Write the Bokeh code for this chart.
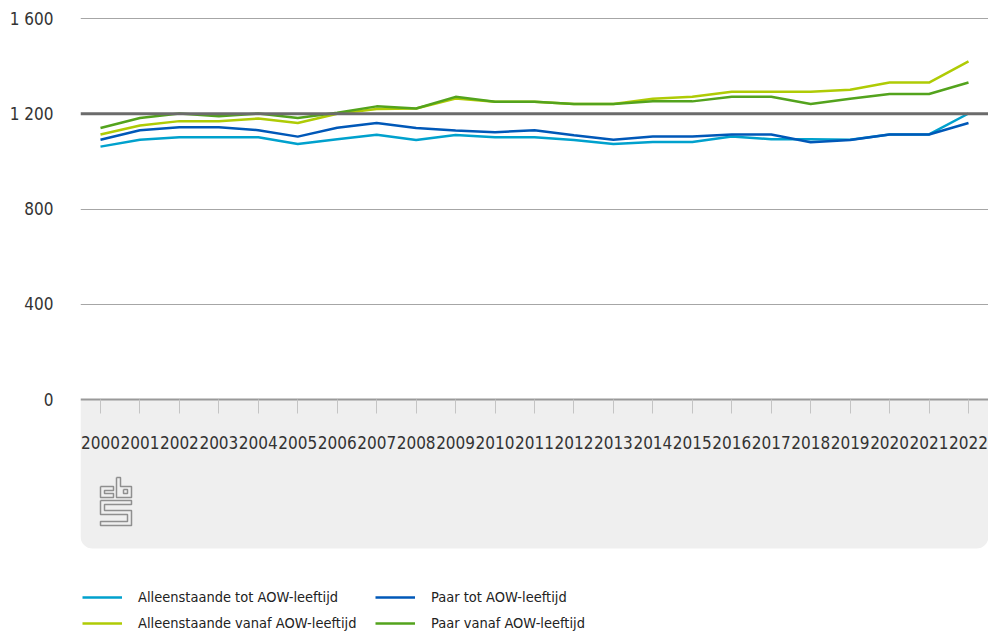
from bokeh.plotting import figure
from bokeh.models import FixedTicker, Span, Legend, LegendItem, Range1d
from bokeh.embed import file_html
from bokeh.resources import INLINE

# ---- data ----
years = list(range(2000, 2023))
alleenstaande_tot = [1062, 1091, 1101, 1101, 1101, 1073, 1093, 1112, 1090, 1111, 1101, 1101,
                     1090, 1073, 1081, 1081, 1104, 1093, 1093, 1091, 1113, 1113, 1201]
paar_tot = [1091, 1131, 1143, 1143, 1131, 1104, 1141, 1161, 1140, 1130, 1122, 1131,
            1110, 1091, 1104, 1104, 1113, 1113, 1080, 1090, 1113, 1113, 1161]
alleenstaande_vanaf = [1113, 1151, 1169, 1169, 1180, 1161, 1200, 1220, 1222, 1264, 1250, 1250,
                       1241, 1241, 1263, 1271, 1292, 1292, 1292, 1301, 1331, 1331, 1420]
paar_vanaf = [1140, 1182, 1201, 1189, 1201, 1182, 1204, 1231, 1222, 1271, 1250, 1250,
              1241, 1241, 1252, 1252, 1271, 1271, 1241, 1263, 1283, 1283, 1331]
y_ticks = [0, 400, 800, 1200, 1600]
y_tick_labels = {0: "0", 400: "400", 800: "800", 1200: "1 200", 1600: "1 600"}
reference_level = 1200
series_names = ["Alleenstaande tot AOW-leeftijd", "Paar tot AOW-leeftijd",
                "Alleenstaande vanaf AOW-leeftijd", "Paar vanaf AOW-leeftijd"]
series_values = [alleenstaande_tot, paar_tot, alleenstaande_vanaf, paar_vanaf]
series_colors = ["#00a1cd", "#0058b8", "#afcb05", "#53a31d"]

# ---- geometry (pixels) ----
W, H = 988, 636
BORDER_LEFT, BORDER_TOP = 80, 10
PX_PER_UNIT = 381 / 1600.0          # vertical scale
PX_PER_YEAR = 868 / 22.0            # horizontal scale
zero_page = 399
x_start = 2000 - 20 / PX_PER_YEAR
x_end = 2000 + (988 - 100) / PX_PER_YEAR
y_end = 1600 + (18 - BORDER_TOP) / PX_PER_UNIT
y_start = -(H - zero_page) / PX_PER_UNIT
band_bottom = -(548 - zero_page) / PX_PER_UNIT

FONT = "DejaVu Sans Condensed"

p = figure(width=W, height=H, output_backend="svg", toolbar_location=None, tools="",
           x_range=Range1d(x_start, x_end), y_range=Range1d(y_start, y_end),
           min_border_left=BORDER_LEFT, min_border_right=0, min_border_top=BORDER_TOP,
           min_border_bottom=0)
p.outline_line_color = None
p.background_fill_color = "white"
p.border_fill_color = "white"

# band below the axis
band = p.quad(left=[x_start], right=[x_end], top=[0], bottom=[band_bottom],
              fill_color="#efefef", line_color=None, border_radius=(0, 0, 12, 12))
band.level = "underlay"

# logo (decorative)
def lp(pts):
    xs = [2000 + (px) / PX_PER_YEAR for px, py in pts]
    ys = [-(477 + py - zero_page) / PX_PER_UNIT for px, py in pts]
    return xs, ys

logo_paths = [
    [(0, 9), (13, 9), (13, 13), (4, 13), (4, 16), (13, 16), (13, 20), (0, 20), (0, 9)],
    [(16, 0), (20, 0), (20, 9), (31, 9), (31, 20), (16, 20), (16, 0)],
    [(23, 12), (27, 12), (27, 16), (23, 16), (23, 12)],
    [(0, 23), (31, 23), (31, 27), (4, 27), (4, 33), (31, 33), (31, 48), (0, 48),
     (0, 44), (27, 44), (27, 37), (0, 37), (0, 23)],
]
lx, ly = [], []
for path in logo_paths:
    a, b = lp(path)
    lx.append(a)
    ly.append(b)
p.multi_line(lx, ly, line_color="#8f8f8f", line_width=1.5)

# data lines
renderers = []
for vals, col in zip(series_values, series_colors):
    renderers.append(p.line(years, vals, line_color=col, line_width=2.5))

# reference line
p.add_layout(Span(location=reference_level, dimension="width", line_color="#6b6b6b", line_width=3))

# axes
p.xaxis.fixed_location = 0
p.xaxis.ticker = FixedTicker(ticks=years)
p.xaxis.major_tick_in = 0
p.xaxis.major_tick_out = 14
p.xaxis.major_tick_line_color = "#c4c4c4"
p.xaxis.minor_tick_line_color = None
p.xaxis.axis_line_color = "#999999"
p.xaxis.axis_line_width = 2
p.xaxis.major_label_standoff = 22
p.xaxis.major_label_text_font = FONT
p.xaxis.major_label_text_font_size = "17px"
p.xaxis.major_label_text_color = "#333333"

p.yaxis.ticker = FixedTicker(ticks=y_ticks)
p.yaxis.major_label_overrides = y_tick_labels
p.yaxis.axis_line_color = None
p.yaxis.major_tick_line_color = None
p.yaxis.minor_tick_line_color = None
p.yaxis.major_tick_out = 0
p.yaxis.major_label_standoff = 27
p.yaxis.major_label_text_font = FONT
p.yaxis.major_label_text_font_size = "17px"
p.yaxis.major_label_text_color = "#333333"

p.xgrid.visible = False
p.ygrid.ticker = FixedTicker(ticks=[400, 800, 1600])
p.ygrid.grid_line_color = "#a6a6a6"
p.ygrid.grid_line_width = 1

# legend: column-major fill -> order items so rows read as in the reference
legend_order = [0, 2, 1, 3]
legend = Legend(items=[LegendItem(label=series_names[i], renderers=[renderers[i]]) for i in legend_order],
                ncols=2, location=(2, H - 633))
legend.background_fill_alpha = 0
legend.border_line_color = None
legend.padding = 0
legend.margin = 0
legend.spacing = 6
legend.glyph_width = 40
legend.glyph_height = 20
legend.label_height = 20
legend.label_width = 231
legend.label_standoff = 16
legend.label_text_font = FONT
legend.label_text_font_size = "14.5px"
legend.label_text_color = "#222222"
p.add_layout(legend)

open("out.html", "w").write(file_html(p, INLINE))
